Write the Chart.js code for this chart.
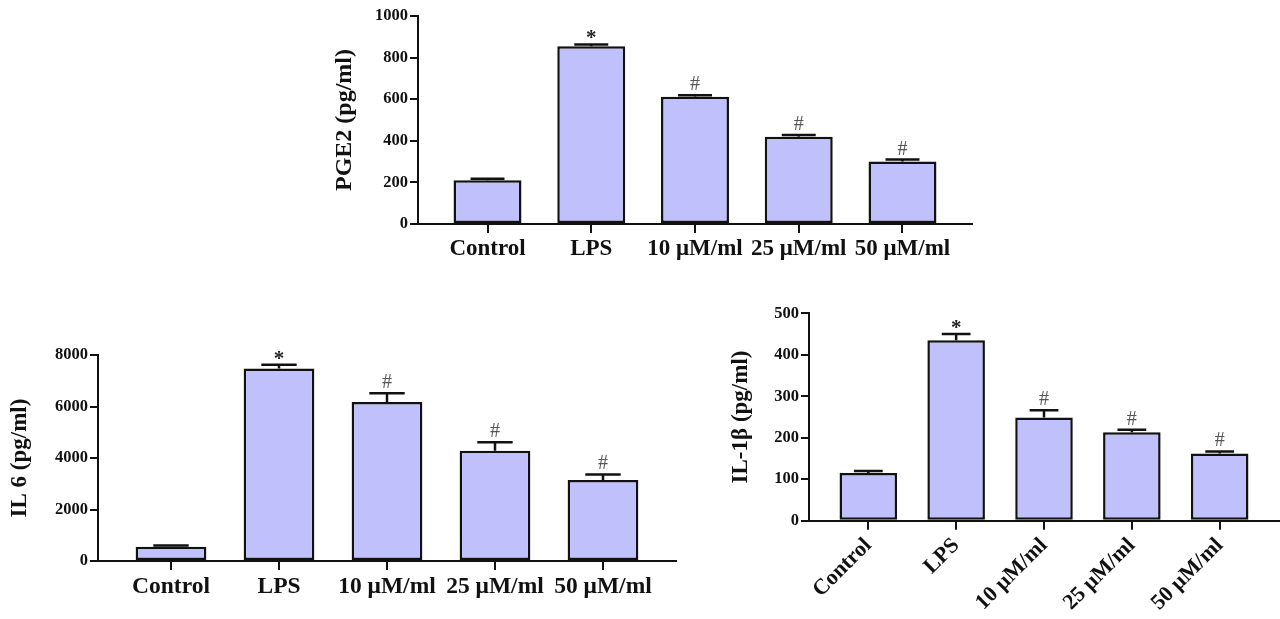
<!DOCTYPE html>
<html>
<head>
<meta charset="utf-8">
<script src="https://cdn.jsdelivr.net/npm/chart.js@4.4.0/dist/chart.umd.min.js"></script>
<style>
  body { margin: 0; background: #fff; width: 1280px; height: 619px; overflow: hidden; position: relative; }
  canvas { position: absolute; }
</style>
</head>
<body>
<canvas id="pge2" width="680" height="270" style="left:300px;top:0px"></canvas>
<canvas id="il6" width="700" height="319" style="left:0px;top:300px"></canvas>
<canvas id="il1b" width="560" height="324" style="left:720px;top:295px"></canvas>
<script>
const groups = ["Control", "LPS", "10 μM/ml", "25 μM/ml", "50 μM/ml"];
const marks = ["", "*", "#", "#", "#"];

const pge2Values = [210, 855, 612, 420, 300];
const pge2Errors = [7, 8, 7, 8, 10];
const pge2Ticks = [0, 200, 400, 600, 800, 1000];

const il6Values = [555, 7480, 6170, 4280, 3150];
const il6Errors = [50, 140, 345, 335, 210];
const il6Ticks = [0, 2000, 4000, 6000, 8000];

const il1bValues = [115, 435, 249, 213, 162];
const il1bErrors = [5, 15, 17, 6, 5];
const il1bTicks = [0, 100, 200, 300, 400, 500];

const FONT = "'Liberation Serif', 'Times New Roman', serif";
const BAR_FILL = "#c0c0fc";
const INK = "#111";

function makeChart(id, values, errors, yTicks, title, cfg) {
  // error bars (upper half only) and significance marks
  const errorBars = {
    id: "errorBars",
    afterDatasetsDraw(chart) {
      const ctx = chart.ctx;
      const y = chart.scales.y;
      ctx.save();
      chart.getDatasetMeta(0).data.forEach((bar, i) => {
        const top = y.getPixelForValue(values[i] + errors[i]);
        const half = bar.width / 4;
        ctx.strokeStyle = INK;
        ctx.lineWidth = 2.5;
        ctx.beginPath();
        ctx.moveTo(bar.x, bar.y);
        ctx.lineTo(bar.x, top);
        ctx.moveTo(bar.x - half, top);
        ctx.lineTo(bar.x + half, top);
        ctx.stroke();
        if (marks[i]) {
          const star = marks[i] === "*";
          ctx.font = (star ? "bold 21px " : "20px ") + FONT;
          ctx.fillStyle = star ? "#222" : "#555";
          ctx.textAlign = "center";
          ctx.textBaseline = "alphabetic";
          ctx.fillText(marks[i], bar.x, top - (star ? 0 : 5));
        }
      });
      ctx.restore();
    }
  };

  return new Chart(document.getElementById(id), {
    type: "bar",
    data: {
      datasets: [{
        data: values.map((v, i) => ({ x: i, y: v })),
        backgroundColor: BAR_FILL,
        borderColor: INK,
        borderWidth: 2.5,
        borderSkipped: false,
        barPercentage: 0.655,
        categoryPercentage: 1
      }]
    },
    options: {
      responsive: false,
      animation: false,
      layout: { padding: cfg.pad },
      plugins: { legend: { display: false }, tooltip: { enabled: false } },
      scales: {
        x: {
          type: "linear",
          offset: false,
          min: -cfg.side,
          max: groups.length - 1 + cfg.side,
          afterBuildTicks: (s) => { s.ticks = groups.map((_, i) => ({ value: i })); },
          afterFit: (s) => { s.height = cfg.xHeight; s.paddingLeft = 0; s.paddingRight = 0; },
          border: { display: true, color: INK, width: 2 },
          grid: { offset: false, drawOnChartArea: false, drawTicks: true, tickLength: 9, color: INK, lineWidth: 2 },
          ticks: {
            autoSkip: false,
            minRotation: cfg.rot,
            maxRotation: cfg.rot,
            padding: cfg.xPad,
            color: INK,
            font: { family: FONT, size: cfg.xSize, weight: "bold" },
            callback: (v) => groups[v]
          }
        },
        y: {
          min: yTicks[0],
          max: yTicks[yTicks.length - 1],
          afterBuildTicks: (s) => { s.ticks = yTicks.map((v) => ({ value: v })); },
          afterFit: (s) => { s.width = cfg.yWidth; s.paddingTop = 0; s.paddingBottom = 0; },
          border: { display: true, color: INK, width: 2 },
          grid: { drawOnChartArea: false, drawTicks: true, tickLength: 8, color: INK, lineWidth: 2 },
          ticks: {
            padding: 2,
            color: INK,
            font: { family: FONT, size: 16.5, weight: "bold" },
            callback: (v) => String(v)
          },
          title: {
            display: true,
            text: title,
            color: INK,
            padding: { top: cfg.titlePad, bottom: 0 },
            font: { family: FONT, size: cfg.titleSize, weight: "bold" }
          }
        }
      }
    },
    plugins: [errorBars]
  });
}

makeChart("pge2", pge2Values, pge2Errors, pge2Ticks, "PGE2 (pg/ml)", {
  pad: { left: 0, right: 8, top: 16, bottom: 0 },
  side: 0.67, xHeight: 46, yWidth: 118, rot: 0, xPad: 2, xSize: 23, titleSize: 24, titlePad: 30.6
});

makeChart("il6", il6Values, il6Errors, il6Ticks, "IL 6 (pg/ml)", {
  pad: { left: 0, right: 24, top: 55, bottom: 0 },
  side: 0.676, xHeight: 58, yWidth: 98, rot: 0, xPad: 3, xSize: 23.5, titleSize: 23, titlePad: 6.7
});

makeChart("il1b", il1bValues, il1bErrors, il1bTicks, "IL-1β (pg/ml)", {
  pad: { left: 0, right: 1, top: 18.3, bottom: 0 },
  side: 0.675, xHeight: 98.3, yWidth: 89, rot: 45, xPad: 3, xSize: 22, titleSize: 23, titlePad: 7
});
</script>
</body>
</html>
